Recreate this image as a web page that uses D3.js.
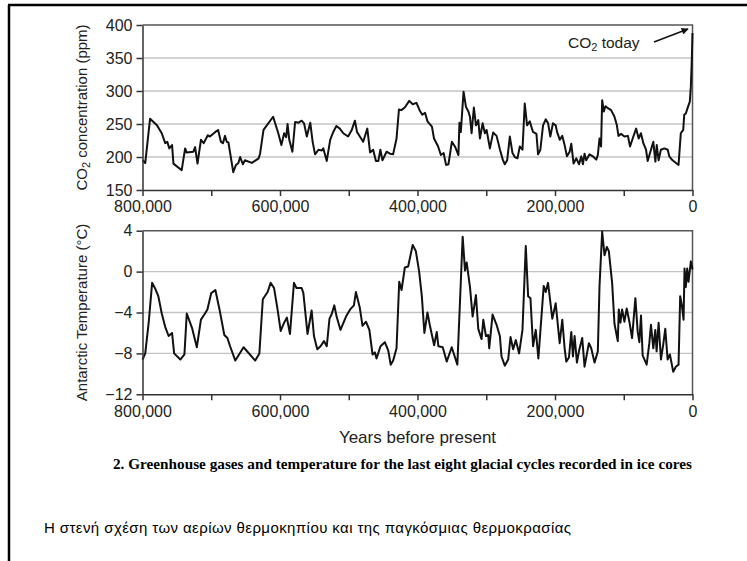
<!DOCTYPE html>
<html>
<head>
<meta charset="utf-8">
<script src="https://cdn.jsdelivr.net/npm/d3@7"></script>
<style>
  body { margin: 0; background: #fff; }
  svg { display: block; }
  .axis text { font-family: "Liberation Sans", Arial, sans-serif; font-size: 16px; fill: #222; }
  .axis path, .axis line { stroke: #333; }
  .grid line { stroke: #c4c4c4; stroke-width: 1.3; }
  .title { font-family: "Liberation Sans", Arial, sans-serif; fill: #222; }
</style>
</head>
<body>
<div id="chart"></div>
<script>
// years before present, in thousands
var co2Years = [800, 796, 789, 779, 772, 767, 764, 761, 757, 755, 743, 738, 736, 726, 723.5, 720, 715, 711, 705, 702,
  694, 690, 686, 683, 680, 677.5, 675, 668, 664, 660.5, 658, 654, 651, 641, 631, 629, 624, 610, 602.5, 598,
  594, 591, 589, 586.5, 582, 578, 573, 568.5, 565, 561, 556, 552.5, 549, 544, 539, 537, 532, 527, 522.5, 518,
  513, 508, 501, 496, 491, 488, 479, 473, 469, 464.5, 460.5, 457, 454, 451, 445, 440, 435.5, 430.5, 427, 423.5,
  418.5, 412, 407, 401.5, 397, 393, 389, 385.5, 379, 376, 370, 366, 362, 358.5, 355, 350, 345.5, 340.5, 339, 337,
  333, 329.5, 326, 323.7, 321.3, 318, 315, 311.6, 309.2, 305.3, 302, 299.5, 294.7, 290, 285, 280, 276, 273, 269.6, 265.7,
  261.8, 258.5, 254.6, 251.2, 247.3, 244, 240.6, 236.7, 232, 227, 224.6, 221.3, 217.4, 213.5, 210, 206.8, 203, 199, 197, 193,
  189.4, 186, 182.6, 178.7, 176.3, 173, 169, 165, 161.8, 159.4, 157, 154.6, 149.8, 145, 140, 137.7, 135.3, 133, 131.4, 129,
  126.6, 123, 118.4, 113.5, 110, 107.7, 104, 99, 94, 90.8, 87, 82, 78.3, 75, 71.5, 67.6, 65.2, 60.4, 57, 54,
  52, 49.3, 46, 41, 36, 33.8, 29, 20.3, 17, 13.5, 12, 9.7, 7.2, 3.9, 2.4, 1, 0];
var co2Values = [195, 191, 258, 248, 236, 221, 223, 213, 218, 190, 180, 213, 207, 208, 215, 190, 226, 221, 233, 231,
  238, 241, 223, 221, 232, 223, 222, 177, 188, 191, 200, 189, 195, 191, 198, 205, 241, 261, 236, 218,
  236, 230, 250, 226, 208, 253, 252, 255, 251, 231, 252, 223, 204, 211, 210, 213, 194, 226, 238, 247,
  243, 236, 231, 240, 255, 238, 223, 243, 207, 211, 194, 194, 211, 195, 208, 205, 204, 228, 272, 271,
  275, 285, 280, 282, 271, 264, 267, 254, 246, 228, 216, 203, 206, 188, 189, 223, 216, 203, 252, 238,
  299, 276, 269, 261, 236, 275, 248, 256, 228, 251, 236, 241, 213, 237, 232, 211, 196, 189, 195, 231,
  206, 200, 198, 216, 211, 281, 248, 254, 238, 235, 204, 211, 248, 257, 251, 231, 251, 248, 238, 226,
  232, 218, 201, 208, 220, 190, 198, 189, 201, 189, 205, 195, 204, 201, 196, 203, 228, 216, 286, 269,
  277, 274, 271, 261, 248, 232, 235, 231, 232, 216, 228, 243, 228, 236, 221, 211, 194, 211, 223, 193,
  218, 195, 211, 213, 211, 201, 195, 188, 236, 241, 264, 266, 274, 284, 307, 347, 388];

var tempYears = [800, 796, 791, 786, 782, 777, 772, 767, 762, 757, 754, 745, 739, 735.6, 728, 721, 715, 710, 705.6, 700,
  694, 688, 681, 676.5, 672.6, 665, 653, 636, 630, 625, 618, 613.6, 608.7, 604, 599, 594, 590, 585.5, 579.7, 576,
  568.5, 566, 560, 554, 550.6, 545.8, 541, 536, 532, 528, 525, 521, 517.7, 512, 504, 498, 492.5, 489.6, 484, 480,
  475, 470, 465.4, 462, 459.6, 453.8, 447.5, 442.6, 439, 435.4, 430.5, 426.6, 423.2, 418.4, 413.6, 407, 402.4, 397.6, 393.7, 390,
  385.5, 381.6, 375.8, 372, 369.6, 363.3, 357.5, 350.2, 342, 334.3, 330.9, 328.5, 323.7, 319.8, 315, 311.6, 306.8, 304.3, 300.5, 297.1,
  295.7, 290.8, 285, 280.2, 277.8, 273, 268.1, 264.7, 260.9, 257, 252.2, 247.3, 242.5, 239.1, 235.7, 231.9, 228, 224.2, 216.4, 213.5,
  210.1, 203.9, 199, 193.2, 189.4, 186, 183.6, 179.7, 176.3, 173.9, 171.5, 168.1, 165.2, 160.4, 157, 150.7, 147.3, 142.5, 137.7, 135.3,
  131.4, 128, 124.6, 121.7, 116.9, 113.5, 108.7, 107.2, 104.8, 102.4, 99, 95.7, 91.8, 87.9, 83.1, 79.7, 77.3, 74.9, 72.5, 66.7,
  62.8, 60.4, 57, 54.1, 52.2, 49.3, 45.9, 42.5, 39.6, 36.2, 32.9, 28, 24.2, 20.3, 17.9, 15.5, 13, 11.6, 9.7, 7.7,
  5.8, 2.4, 0];
var tempValues = [-8.6, -8.0, -5.0, -1.1, -1.6, -2.4, -4.1, -5.4, -6.3, -6.0, -8.0, -8.6, -8.1, -4.1, -5.5, -7.4, -4.7, -4.2, -3.7, -2.1,
  -1.8, -3.7, -6.2, -6.5, -7.3, -8.7, -7.4, -8.7, -8.0, -2.7, -2.0, -1.1, -1.6, -3.5, -5.8, -5.0, -4.5, -6.1, -1.1, -1.6,
  -1.6, -2.1, -6.1, -3.8, -6.3, -7.6, -7.3, -6.8, -7.3, -4.6, -4.2, -3.3, -4.4, -5.7, -4.4, -3.7, -3.3, -2.0, -3.5, -5.3,
  -4.9, -5.7, -8.1, -7.9, -8.5, -7.3, -6.9, -7.7, -9.1, -8.7, -7.5, -1.0, -1.8, 0.4, 0.5, 2.6, 2.0, 0, -2.4, -6.0,
  -4.0, -5.4, -7.2, -5.9, -7.3, -7.4, -8.8, -7.4, -9.1, 3.4, 0.1, 0.9, -1.5, -4.4, -2.3, -5.6, -6.6, -4.7, -6.3, -6.2,
  -7.5, -4.2, -5.2, -6.3, -8.3, -9.2, -8.6, -6.4, -7.6, -6.7, -8.0, -5.7, 2.5, -2.4, -2.6, -7.3, -5.7, -8.5, -1.4, -2.0,
  -1.1, -4.6, -3.1, -7.0, -4.7, -7.5, -8.8, -8.4, -5.9, -8.3, -6.3, -8.9, -7.8, -6.5, -9.3, -7.0, -7.5, -8.9, -7.8, -1.5,
  3.9, 1.6, 2.4, 2.0, -1.1, -5.1, -6.8, -3.7, -5.0, -3.7, -4.9, -3.6, -4.9, -6.5, -2.6, -5.9, -6.9, -4.3, -8.2, -9.1,
  -7.0, -5.2, -7.5, -5.7, -7.8, -5.0, -8.6, -7.1, -5.6, -8.6, -8.1, -9.8, -9.3, -9.1, -2.4, -3.3, -4.7, 0.3, -1.5, 0.3,
  -1.0, 1.0, 0.2];

var xTicks = [800, 700, 600, 500, 400, 300, 200, 100, 0];
var co2Ticks = [150, 200, 250, 300, 350, 400];
var tempTicks = [-12, -8, -4, 0, 4];

var width = 747, height = 561;
var plotLeft = 142.5, plotRight = 692.5;

var svg = d3.select("#chart").append("svg")
  .attr("width", width)
  .attr("height", height);

// page frame (top and left edges only)
svg.append("path")
  .attr("d", "M8,5H747M9,5V561")
  .attr("fill", "none")
  .attr("stroke", "#000")
  .attr("stroke-width", 2.5);

var x = d3.scaleLinear().domain([800, 0]).range([plotLeft, plotRight]);
var fmtYears = function (d) { return d % 200 === 0 ? d3.format(",")(d * 1000) : ""; };

function panel(top, bottom, yDomain, yTicks, years, values, yTitle) {
  var y = d3.scaleLinear().domain(yDomain).range([bottom, top]);
  var g = svg.append("g");

  // gridlines
  g.append("g").attr("class", "grid")
    .selectAll("line")
    .data(yTicks.slice(1, -1))
    .enter().append("line")
    .attr("x1", plotLeft).attr("x2", plotRight)
    .attr("y1", function (d) { return y(d); })
    .attr("y2", function (d) { return y(d); });

  // top and right frame
  g.append("path")
    .attr("d", "M" + plotLeft + "," + top + "H" + plotRight + "V" + bottom)
    .attr("fill", "none")
    .attr("stroke", "#555")
    .attr("stroke-width", 1.5);

  var line = d3.line()
    .x(function (d) { return x(d[0]); })
    .y(function (d) { return y(d[1]); });

  g.append("path")
    .datum(d3.zip(years, values))
    .attr("fill", "none")
    .attr("stroke", "#111")
    .attr("stroke-width", 2)
    .attr("stroke-linejoin", "round")
    .attr("d", line);

  g.append("g").attr("class", "axis")
    .attr("transform", "translate(0," + bottom + ")")
    .call(d3.axisBottom(x).tickValues(xTicks).tickFormat(fmtYears).tickSize(6).tickSizeOuter(0).tickPadding(5))
    .call(function (a) { a.selectAll("path, line").attr("stroke-width", 1.5); });

  g.append("g").attr("class", "axis")
    .attr("transform", "translate(" + plotLeft + ",0)")
    .call(d3.axisLeft(y).tickValues(yTicks).tickSize(6).tickSizeOuter(0).tickPadding(4))
    .call(function (a) { a.selectAll("path, line").attr("stroke-width", 1.5); });

  var t = svg.append("text")
    .attr("class", "title")
    .attr("transform", "translate(87," + ((top + bottom) / 2) + ") rotate(-90)")
    .attr("text-anchor", "middle")
    .attr("font-size", 15);
  yTitle(t);
  return y;
}

panel(25, 190, [150, 400], co2Ticks, co2Years, co2Values, function (t) {
  t.append("tspan").text("CO");
  t.append("tspan").attr("font-size", 11).attr("baseline-shift", "-25%").text("2");
  t.append("tspan").text(" concentration (ppm)");
});

panel(230.7, 394.3, [-12, 4], tempTicks, tempYears, tempValues, function (t) {
  t.text("Antarctic Temperature (\u00B0C)");
});

// annotation
var note = svg.append("text")
  .attr("class", "title")
  .attr("x", 568).attr("y", 48)
  .attr("font-size", 15.5);
note.append("tspan").text("CO");
note.append("tspan").attr("font-size", 11).attr("baseline-shift", "-30%").text("2");
note.append("tspan").text(" today");

svg.append("defs").append("marker")
  .attr("id", "arrow")
  .attr("viewBox", "0 0 10 10")
  .attr("refX", 9).attr("refY", 5)
  .attr("markerWidth", 9).attr("markerHeight", 7)
  .attr("markerUnits", "userSpaceOnUse")
  .attr("orient", "auto")
  .append("path")
  .attr("d", "M0,0L10,5L0,10Z")
  .attr("fill", "#111");

svg.append("line")
  .attr("x1", 654).attr("y1", 42)
  .attr("x2", 688).attr("y2", 29)
  .attr("stroke", "#111")
  .attr("stroke-width", 1.5)
  .attr("marker-end", "url(#arrow)");

svg.append("text")
  .attr("class", "title")
  .attr("x", (plotLeft + plotRight) / 2).attr("y", 443)
  .attr("text-anchor", "middle")
  .attr("font-size", 17)
  .text("Years before present");

svg.append("text")
  .attr("x", 113).attr("y", 469)
  .attr("font-family", "'Liberation Serif', 'Times New Roman', serif")
  .attr("font-weight", "bold")
  .attr("font-size", 15.2)
  .attr("textLength", 579)
  .attr("lengthAdjust", "spacing")
  .attr("fill", "#000")
  .text("2. Greenhouse gases and temperature for the last eight glacial cycles recorded in ice cores");

svg.append("text")
  .attr("x", 44).attr("y", 533)
  .attr("font-family", "'Liberation Sans', Arial, sans-serif")
  .attr("font-size", 15)
  .attr("textLength", 527)
  .attr("lengthAdjust", "spacing")
  .attr("fill", "#000")
  .text("\u0397 \u03C3\u03C4\u03B5\u03BD\u03AE \u03C3\u03C7\u03AD\u03C3\u03B7 \u03C4\u03C9\u03BD \u03B1\u03B5\u03C1\u03AF\u03C9\u03BD \u03B8\u03B5\u03C1\u03BC\u03BF\u03BA\u03B7\u03C0\u03AF\u03BF\u03C5 \u03BA\u03B1\u03B9 \u03C4\u03B7\u03C2 \u03C0\u03B1\u03B3\u03BA\u03CC\u03C3\u03BC\u03B9\u03B1\u03C2 \u03B8\u03B5\u03C1\u03BC\u03BF\u03BA\u03C1\u03B1\u03C3\u03AF\u03B1\u03C2");
</script>
</body>
</html>
